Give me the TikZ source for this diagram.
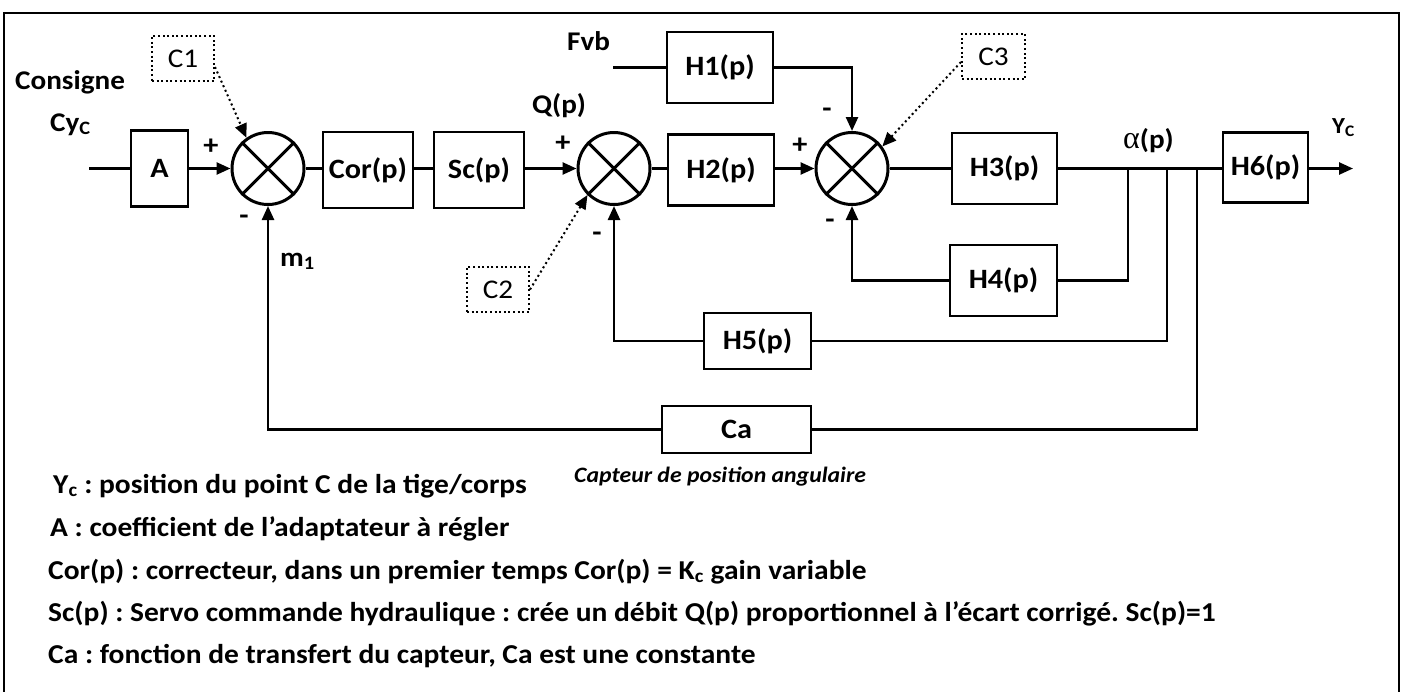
\documentclass[tikz,border=0pt]{standalone}
\usepackage{fontspec}
\setmainfont{Carlito}[FakeStretch=1.08]
\newfontfamily\grkfont{Liberation Serif}
\usetikzlibrary{arrows.meta,calc}
\frenchspacing
\begin{document}
\begin{tikzpicture}[x=1pt,y=-1pt,
  ln/.style={line width=2.5pt},
  arr/.style={-{Triangle[length=14pt,width=12pt]}},
  blk/.style={draw, line width=2.6pt, inner sep=0pt, font=\bfseries\fontsize{28}{30}\selectfont},
  sumn/.style={draw, circle, line width=3pt, minimum size=72pt, inner sep=0pt},
  lbl/.style={inner sep=0pt, font=\bfseries\fontsize{27}{30}\selectfont},
  sgn/.style={inner sep=0pt, font=\bfseries\fontsize{28}{30}\selectfont},
  cbox/.style={draw, line width=2pt, dash pattern=on 2pt off 2.6pt, inner sep=0pt, font=\fontsize{27}{30}\selectfont},
  dotl/.style={line width=2pt, dash pattern=on 2pt off 3pt},
  body/.style={inner sep=0pt, font=\bfseries\fontsize{27.3}{30}\selectfont}
]
\useasboundingbox (0,0) rectangle (1410,691);
% outer frame
\draw[line width=2pt] (4,692) -- (4,13) -- (1399,13) -- (1399,692);

% blocks
\node[blk, minimum width=57pt, minimum height=76pt] (A) at (159.5,168.5) {A};
\node[sumn] (s1) at (268,168.5) {};
\node[blk, minimum width=90pt, minimum height=76pt] (cor) at (368,170) {Cor(p)};
\node[blk, minimum width=90pt, minimum height=76pt] (sc) at (479,170) {Sc(p)};
\node[sumn] (s2) at (614,168.5) {};
\node[blk, minimum width=106pt, minimum height=71pt] (h2) at (721,170) {H2(p)};
\node[sumn] (s3) at (852,168.5) {};
\node[blk, minimum width=105pt, minimum height=71pt] (h3) at (1004.5,168.5) {H3(p)};
\node[blk, minimum width=85pt, minimum height=70pt] (h6) at (1265.5,167.5) {H6(p)};
\node[blk, minimum width=106pt, minimum height=71pt] (h1) at (720,67.5) {H1(p)};
\node[blk, minimum width=107pt, minimum height=71pt] (h4) at (1003.5,280.5) {H4(p)};
\node[blk, minimum width=107pt, minimum height=56pt] (h5) at (757.5,341) {H5(p)};
\node[blk, minimum width=149pt, minimum height=47pt] (ca) at (736.5,429.5) {Ca};

% crosses in summing junctions
\foreach \s in {s1,s2,s3}{
  \draw[line width=3pt] (\s.45) -- (\s.225);
  \draw[line width=3pt] (\s.135) -- (\s.315);
}

% free ends
\coordinate (in) at (89,168.5);
\coordinate (fvb) at (613,67.5);
\coordinate (out) at (1353,168.5);
\coordinate (b4) at (1128,168.5);
\coordinate (b5) at (1167,168.5);
\coordinate (b6) at (1197,168.5);

% forward path
\draw[ln] (in) -- (A);
\draw[ln,arr] (A) -- (s1);
\draw[ln] (s1) -- (s1 -| cor.west);
\draw[ln] (cor.east |- s1) -- (s1 -| sc.west);
\draw[ln,arr] (sc.east |- s1) -- (s2);
\draw[ln] (s2) -- (s2 -| h2.west);
\draw[ln,arr] (h2.east |- s2) -- (s3);
\draw[ln] (s3) -- (h3);
\draw[ln] (h3) -- (h6.west |- h3);
\draw[ln,arr] (h6.east |- h3) -- (out);

% disturbance
\draw[ln] (fvb) -- (h1);
\draw[ln,arr] (h1.east) -| (s3.north);

% feedbacks
\draw[ln] (b4) |- (h4);
\draw[ln,arr] (h4) -| (s3.south);
\draw[ln] (b5) |- (h5);
\draw[ln,arr] (h5) -| (s2.south);
\draw[ln] (b6) |- (ca);
\draw[ln,arr] (ca) -| (s1.south);

% labels
\node[lbl, anchor=base west] (consigne) at (15,89) {Consigne};
\node[lbl, anchor=base west] (cyc) at (50,131) {Cy\textsubscript{C}};
\node[lbl, anchor=base west] (m1) at (280,266) {m\textsubscript{1}};
\node[lbl, anchor=base west] (qp) at (532,113) {Q(p)};
\node[lbl, anchor=base west] (fvbl) at (567,50) {Fvb};
\node[lbl, anchor=base west] (alp) at (1123,148) {{\grkfont\mdseries\fontsize{32}{32}\selectfont α}(p)};
\node[lbl, anchor=base west, font=\bfseries\fontsize{23}{26}\selectfont] (yc) at (1332,133) {Y\textsubscript{C}};

% signs
\node[sgn] (p1) at (211,147) {+};
\node[sgn] (m1s) at (244,220) {-};
\node[sgn] (p2) at (563,144) {+};
\node[sgn] (m2s) at (597,237) {-};
\node[sgn] (p3) at (800,146) {+};
\node[sgn] (m3a) at (827,113) {-};
\node[sgn] (m3b) at (830,224) {-};

% comment boxes
\node[cbox, minimum width=62pt, minimum height=45pt] (c1) at (183,58.5) {C1};
\node[cbox, minimum width=62pt, minimum height=45pt] (c2) at (498,289.5) {C2};
\node[cbox, minimum width=63pt, minimum height=45pt] (c3) at (993.5,56.5) {C3};
\draw[dotl,arr] ([yshift=-8.5pt]c1.east) -- (s1.125);
\draw[dotl,arr] (c2.east) -- (s2.225);
\draw[dotl,arr] ([yshift=-5.5pt]c3.west) -- (s3.36);

% caption and legend
\node[anchor=base west, inner sep=0pt, font=\bfseries\itshape\fontsize{22}{26}\selectfont] (cap) at (574,482) {Capteur de position angulaire};
\node[body, anchor=base west] (d1) at (53,493) {Y\textsubscript{c} : position du point C de la tige/corps};
\node[body, anchor=base west] (d2) at (50,536) {A : coefficient de l’adaptateur à régler};
\node[body, anchor=base west] (d3) at (48,579) {Cor(p) : correcteur, dans un premier temps Cor(p) = K\textsubscript{c} gain variable};
\node[body, anchor=base west] (d4) at (48,621) {Sc(p) : Servo commande hydraulique : crée un débit Q(p) proportionnel à l’écart corrigé. Sc(p)=1};
\node[body, anchor=base west] (d5) at (48,663) {Ca : fonction de transfert du capteur, Ca est une constante};
\end{tikzpicture}
\end{document}
